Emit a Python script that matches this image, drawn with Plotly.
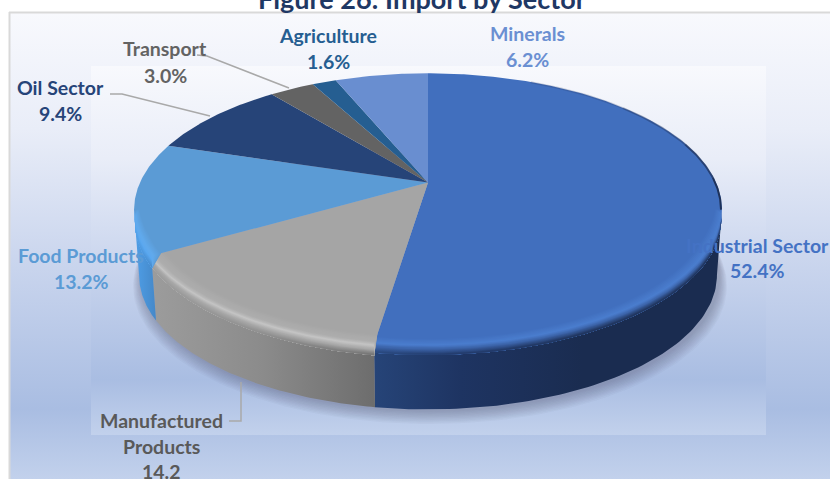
import numpy as np
import plotly.graph_objects as go

# Import shares by sector, clockwise from twelve o'clock
sectors = ["Industrial Sector", "Manufactured Products", "Food Products", "Oil Sector",
           "Transport", "Agriculture", "Minerals"]
shares = [52.4, 14.2, 13.2, 9.4, 3.0, 1.6, 6.2]
top_colors = ["#416fbe", "#a5a5a5", "#5b9bd5", "#264478", "#636363", "#255e91", "#698ed0"]

# Text labels: (text, centre x, centre y, colour), one entry per line
label_lines = [
    ("Minerals", 527, 33, "#6a8fd2"), ("6.2%", 527, 59, "#6a8fd2"),
    ("Agriculture", 328, 35, "#255e91"), ("1.6%", 328, 61, "#255e91"),
    ("Transport", 165, 48, "#636363"), ("3.0%", 165, 75, "#636363"),
    ("Oil Sector", 60, 87, "#264478"), ("9.4%", 60, 113, "#264478"),
    ("Food Products", 81, 255, "#5b9bd5"), ("13.2%", 81, 281, "#5b9bd5"),
    ("Industrial Sector", 757, 245, "#4472c4"), ("52.4%", 757, 270, "#4472c4"),
    ("Manufactured", 161, 420, "#595959"), ("Products", 161, 446, "#595959"), ("14.2", 161, 471, "#595959"),
]
title_text = "Figure 26: Import by Sector"

# Leader lines from labels to the slices
leaders = [
    ([197, 207, 289], [55, 56, 88]),
    ([110, 122, 210], [94, 94, 116]),
    ([229, 241, 241], [421, 421, 382]),
]

# Perspective pie: apex position, axes of the disc and tilt factor
APEX_X, APEX_Y = 428.0, 182.5
A, B, K = 288.0, 131.0, 0.2
DEPTH, BASE_SCALE = 66.0, 0.983
LEFT_LIMIT, RIGHT_LIMIT = 258.5, 101.5

# Background stops shared by the outer panel and the inner plot panel, bottom to top
panel_stops = [[0, "#c2d1ec"], [0.15, "#a9bde2"], [0.45, "#c8d4ed"], [0.75, "#e9edf8"], [1, "#f8f9fd"]]

# Side wall colours, left to right, and the rim profile per front slice
wall_scales = {
    0: [[0, "#264478"], [0.25, "#1e3462"], [0.6, "#1a2c50"], [1, "#1a2c50"]],
    1: [[0, "#9c9c9c"], [0.5, "#8b8b8b"], [1, "#6d6d6d"]],
    2: [[0, "#4f9fe8"], [1, "#4588c8"]],
}
rim_profiles = {
    0: [(-0.10, "#416fbe"), (-0.02, "#4a7dce"), (0.03, "#3d66ad"), (0.13, None)],
    1: [(-0.13, "#a5a5a5"), (-0.03, "#aeaeae"), (0.015, "#c4c4c4"), (0.08, "#a8a8a8"), (0.17, None)],
    2: [(-0.08, "#5b9bd5"), (-0.02, "#60a9ec"), (0.04, "#5aa8f0"), (0.18, None)],
}


def to_rgb(hex_color):
    return np.array([int(hex_color[i:i + 2], 16) for i in (1, 3, 5)], dtype=float)


def mix(c1, c2, f):
    v = to_rgb(c1) * (1 - f) + to_rgb(c2) * f
    return "#%02x%02x%02x" % tuple(int(round(x)) for x in v)


def project(theta_deg, radius=1.0, s=0.0):
    """Place a disc point on the page; s runs from the top face (0) to the base (1)."""
    t = np.radians(theta_deg)
    u, v = radius * np.sin(t), radius * np.cos(t)
    d = 1 + K * v
    x_top, y_top = A * u / d, -B * v / d
    scale = 1 + (BASE_SCALE - 1) * s
    return APEX_X + x_top * scale, APEX_Y + y_top * scale + DEPTH * s


def rim(theta, s):
    """Rim point at profile position s; negative s moves inward on the top face."""
    if s >= 0:
        return project(theta, 1.0, s)
    fade = np.clip((-np.cos(np.radians(theta)) + 0.1) / 0.5, 0, 1)
    return project(theta, 1 + s * 0.4 * fade, 0.0)


def band(start, end, s0, s1):
    th = np.linspace(start, end, 80)
    x0, y0 = rim(th, s0)
    x1, y1 = rim(th, s1)
    return np.r_[x0, x1[::-1]], np.r_[y0, y1[::-1]]


def poly(x, y, **kw):
    return go.Scatter(x=x, y=y, mode="lines", fill="toself", line=dict(width=0),
                      hoverinfo="skip", showlegend=False, **kw)


fig = go.Figure()

# Panels
fig.add_trace(poly([10, 830, 830, 10, 10], [13, 13, 479, 479, 13],
                   fillgradient=dict(type="vertical", colorscale=panel_stops)))
fig.add_trace(poly([91, 766, 766, 91, 91], [66, 66, 435, 435, 66],
                   fillgradient=dict(type="vertical", colorscale=panel_stops)))

# Soft shadow under the base
th_all = np.linspace(0, 360, 241)
for i in range(10, 0, -1):
    t = np.radians(th_all)
    grow = 1 + i * 0.0028
    u, v = np.sin(t), np.cos(t)
    d = 1 + K * v
    sx = APEX_X + 2 + BASE_SCALE * A * u / d * grow
    sy = APEX_Y + DEPTH + 1 + BASE_SCALE * (-B * v / d) * grow + i * 0.9
    fig.add_trace(poly(sx, sy, fillcolor="rgba(70,80,110,0.04)"))

# Slice boundaries, clockwise angles in degrees
edges = np.r_[0, np.cumsum(shares)] / sum(shares) * 360

# Side walls of the slices facing the viewer
for i in (0, 1, 2):
    start = max(edges[i], RIGHT_LIMIT)
    end = min(edges[i + 1], LEFT_LIMIT)
    x, y = band(start, end, 0.0, 1.0)
    fig.add_trace(poly(x, y, fillgradient=dict(type="horizontal", colorscale=wall_scales[i])))

# Top faces
for i, color in enumerate(top_colors):
    th = np.linspace(edges[i], edges[i + 1], max(int(edges[i + 1] - edges[i]) * 2, 8))
    x, y = project(th)
    fig.add_trace(poly(np.r_[APEX_X, x, APEX_X], np.r_[APEX_Y, y, APEX_Y], fillcolor=color))

# Rounded rim between top face and wall, painted from inside outward
for i in (0, 1, 2):
    start = max(edges[i], RIGHT_LIMIT)
    end = min(edges[i + 1], LEFT_LIMIT)
    profile = rim_profiles[i]
    s_end = profile[-1][0]
    for (s0, c0), (s1, c1) in zip(profile[:-1], profile[1:]):
        for f in np.linspace(0, 1, 7)[:-1]:
            s = s0 + (s1 - s0) * f
            scale = []
            for pos, wall in wall_scales[i]:
                a = c0 if c0 else wall
                b = c1 if c1 else wall
                scale.append([pos, mix(a, b, f)])
            x, y = band(start, end, s, s_end + 0.01)
            fig.add_trace(poly(x, y, fillgradient=dict(type="horizontal", colorscale=scale)))

# Dark edge that fades out along the back of the largest slice
for a0, a1, alpha in [(25, 50, 0.2), (50, 72, 0.4), (72, 88, 0.7), (88, RIGHT_LIMIT, 0.95)]:
    th = np.linspace(a0, a1, 30)
    x, y = project(th, 0.997)
    fig.add_trace(go.Scatter(x=x, y=y, mode="lines", hoverinfo="skip", showlegend=False,
                             line=dict(color=f"rgba(28,46,84,{alpha})", width=2)))

# Leader lines
for lx, ly in leaders:
    fig.add_trace(go.Scatter(x=lx, y=ly, mode="lines", hoverinfo="skip", showlegend=False,
                             line=dict(color="#a9a9a9", width=1.5)))

annotations = [dict(text=f"<b>{t}</b>", x=x, y=y, xref="x", yref="y", showarrow=False,
                    xanchor="center", yanchor="middle",
                    font=dict(family="Lato", size=19.5, color=c))
               for t, x, y, c in label_lines]
annotations.append(dict(text=f"<b>{title_text}</b>", x=422 / 830, y=1 + 2 / 479, xref="paper", yref="paper",
                        showarrow=False, xanchor="center", yanchor="middle",
                        font=dict(family="Lato", size=27, color="#1f3864")))

fig.update_layout(
    width=830, height=479, autosize=False, margin=dict(l=0, r=0, t=0, b=0),
    paper_bgcolor="white", plot_bgcolor="white", showlegend=False,
    xaxis=dict(range=[0, 830], visible=False, fixedrange=True),
    yaxis=dict(range=[479, 0], visible=False, fixedrange=True),
    shapes=[
        dict(type="line", x0=9, x1=830, y0=12.5, y1=12.5, layer="above", line=dict(color="#d9d9d9", width=2)),
        dict(type="line", x0=9.5, x1=9.5, y0=12, y1=479, layer="above", line=dict(color="#d9d9d9", width=2)),
    ],
    annotations=annotations,
)

fig.write_html("out.html", config=dict(displayModeBar=False))
